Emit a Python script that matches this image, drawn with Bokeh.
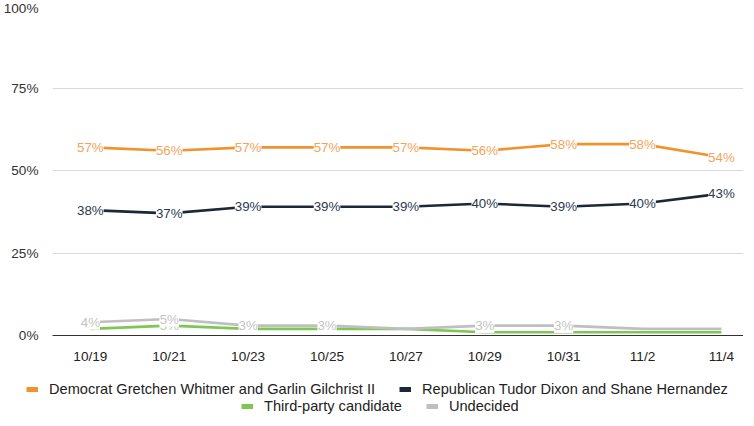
from bokeh.plotting import figure
from bokeh.layouts import column
from bokeh.models import ColumnDataSource, Legend, LegendItem, FixedTicker, PrintfTickFormatter, Range1d
from bokeh.core.properties import value
from bokeh.embed import file_html
from bokeh.resources import INLINE

dates = ["10/19", "10/21", "10/23", "10/25", "10/27", "10/29", "10/31", "11/2", "11/4"]
dem = [57, 56, 57, 57, 57, 56, 58, 58, 54]
rep = [38, 37, 39, 39, 39, 40, 39, 40, 43]
third = [2, 3, 2, 2, 2, 1, 1, 1, 1]
undecided = [4, 5, 3, 3, 2, 3, 3, 2, 2]
third_label_shown = [False, True, False, False, False, False, False, False, False]
undecided_label_shown = [True, True, True, True, False, True, True, False, False]
y_ticks = [0, 25, 50, 75, 100]

names = ["Democrat Gretchen Whitmer and Garlin Gilchrist II",
         "Republican Tudor Dixon and Shane Hernandez",
         "Third-party candidate", "Undecided"]
colors = ["#F0932F", "#1B2838", "#7DC855", "#BFBFBF"]
label_colors = ["#F3A458", "#2B3A4E", "#B8CCB0", "#C4C4C4"]

FONT = "Liberation Sans"
x = list(range(len(dates)))

p = figure(frame_width=691, frame_height=330, x_range=(-0.48, 8.28), y_range=(0, 100),
           output_backend="svg", toolbar_location=None,
           min_border_left=47, min_border_right=0, min_border_top=5, min_border_bottom=27,
           outline_line_color=None)

series = [dem, rep, third, undecided]
shown = [[True] * len(dates), [True] * len(dates), third_label_shown, undecided_label_shown]

for vals, col in zip(series, colors):
    p.line(x, vals, line_color=col, line_width=2.6)
for vals, lcol, sh in zip(series, label_colors, shown):
    lx = [xi for xi, s in zip(x, sh) if s]
    ly = [v for v, s in zip(vals, sh) if s]
    lt = ["%d%%" % v for v, s in zip(vals, sh) if s]
    src = ColumnDataSource(dict(x=lx, y=ly, t=lt))
    p.text(x="x", y="y", text="t", source=src, text_align="center", text_baseline="middle",
           text_font=value(FONT), text_font_size="13.3px", text_color=lcol,
           background_fill_color="white", padding=0)

p.yaxis.ticker = FixedTicker(ticks=y_ticks)
p.yaxis.formatter = PrintfTickFormatter(format="%d%%")
p.yaxis.axis_line_color = None
p.yaxis.major_tick_line_color = None
p.yaxis.minor_tick_line_color = None
p.yaxis.major_label_standoff = 8
p.yaxis.major_label_text_font = FONT
p.yaxis.major_label_text_font_size = "13.6px"
p.yaxis.major_label_text_color = "#333333"

p.xaxis.ticker = FixedTicker(ticks=x)
p.xaxis.major_label_overrides = {i: d for i, d in zip(x, dates)}
p.xaxis.axis_line_color = "#333333"
p.xaxis.axis_line_width = 1.2
p.xaxis.major_tick_line_color = None
p.xaxis.minor_tick_line_color = None
p.xaxis.major_label_standoff = 7
p.xaxis.major_label_text_font = FONT
p.xaxis.major_label_text_font_size = "13.6px"
p.xaxis.major_label_text_color = "#222222"

p.xgrid.grid_line_color = None
p.ygrid.ticker = FixedTicker(ticks=y_ticks)
p.ygrid.grid_line_color = "#D9D9D9"
p.ygrid.grid_line_width = 1

# legend-only figure below the chart (series lines fall outside its 0..1 range)
lf = figure(width=738, height=48, x_range=Range1d(-0.5, -0.4), y_range=Range1d(-1, -0.5),
            output_backend="svg", toolbar_location=None, outline_line_color=None,
            min_border=0, x_axis_location=None, y_axis_location=None)
lf.frame_align = False
lf.xgrid.grid_line_color = None
lf.ygrid.grid_line_color = None
legend_renderers = [lf.line(x, vals, line_color=col, line_width=5) for vals, col in zip(series, colors)]

def make_legend(idx, loc):
    return Legend(items=[LegendItem(label=names[i], renderers=[legend_renderers[i]]) for i in idx],
                  orientation="horizontal", location=loc,
                  label_text_font=FONT, label_text_font_size="14.6px", label_text_color="#222222",
                  glyph_width=12, glyph_height=14, label_height=14, label_standoff=11,
                  spacing=24, padding=0, margin=0,
                  border_line_color=None, background_fill_alpha=0)

lf.add_layout(make_legend([0, 1], (26, 17)), "center")
lf.add_layout(make_legend([2, 3], (241, 0)), "center")

layout = column(p, lf, spacing=0)
open("out.html", "w").write(file_html(layout, INLINE))
